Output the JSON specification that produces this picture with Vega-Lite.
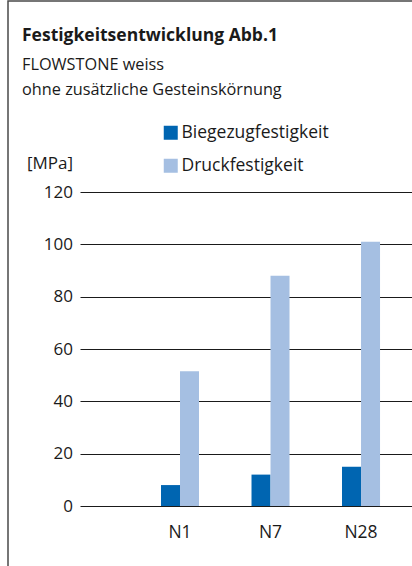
{
  "$schema": "https://vega.github.io/schema/vega-lite/v6.json",
  "width": 404,
  "height": 565,
  "autosize": {"type": "none"},
  "padding": {"left": 8, "top": 1, "right": 0, "bottom": 0},
  "background": "white",
  "config": {
    "view": {"stroke": "#4a4a4a", "strokeWidth": 1.5, "strokeDash": [404, 969, 565, 200]},
    "font": "Open Sans"
  },
  "title": {
    "text": "Festigkeitsentwicklung Abb.1",
    "subtitle": ["FLOWSTONE weiss", "ohne zusätzliche Gesteinskörnung"],
    "anchor": "start",
    "frame": "group",
    "orient": "top",
    "offset": -97,
    "dx": 14,
    "font": "Open Sans",
    "fontSize": 17.5,
    "fontWeight": "bold",
    "color": "#1a1a1a",
    "subtitleFont": "Open Sans",
    "subtitleFontSize": 16.3,
    "subtitleColor": "#1a1a1a",
    "subtitlePadding": 13,
    "subtitleLineHeight": 24.5
  },
  "data": {
    "values": [
      {"Alter": "N1", "Serie": "Biegezugfestigkeit", "Wert": 8},
      {"Alter": "N1", "Serie": "Druckfestigkeit", "Wert": 51.5},
      {"Alter": "N7", "Serie": "Biegezugfestigkeit", "Wert": 12},
      {"Alter": "N7", "Serie": "Druckfestigkeit", "Wert": 88},
      {"Alter": "N28", "Serie": "Biegezugfestigkeit", "Wert": 15},
      {"Alter": "N28", "Serie": "Druckfestigkeit", "Wert": 101}
    ]
  },
  "mark": {"type": "bar"},
  "encoding": {
    "x": {
      "field": "Alter",
      "type": "nominal",
      "sort": ["N1", "N7", "N28"],
      "scale": {"range": [72, 404], "paddingInner": 0.58, "paddingOuter": 0.624, "align": 0.717},
      "axis": {
        "title": null,
        "domain": false,
        "ticks": false,
        "tickSize": 0,
        "grid": false,
        "labelAngle": 0,
        "labelPadding": -34,
        "labelBaseline": "middle",
        "labelFontSize": 17.5,
        "labelFont": "Open Sans",
        "labelColor": "#1a1a1a"
      }
    },
    "xOffset": {
      "field": "Serie",
      "type": "nominal",
      "sort": ["Biegezugfestigkeit", "Druckfestigkeit"]
    },
    "y": {
      "field": "Wert",
      "type": "quantitative",
      "scale": {"domain": [0, 120], "range": [505, 191], "nice": false},
      "axis": {
        "values": [0, 20, 40, 60, 80, 100, 120],
        "domain": false,
        "ticks": false,
        "tickSize": 0,
        "labelPadding": -64.5,
        "labelFontSize": 17,
        "labelFont": "Open Sans",
        "labelColor": "#1a1a1a",
        "grid": true,
        "gridColor": "#1a1a1a",
        "gridWidth": 1,
        "gridOpacity": 1,
        "title": "[MPa]",
        "titleAngle": 0,
        "titleAlign": "right",
        "titleBaseline": "middle",
        "titleX": 64.5,
        "titleY": 162,
        "titleFontSize": 17,
        "titleFontWeight": "normal",
        "titleFont": "Open Sans",
        "titleColor": "#1a1a1a"
      }
    },
    "color": {
      "field": "Serie",
      "type": "nominal",
      "scale": {
        "domain": ["Biegezugfestigkeit", "Druckfestigkeit"],
        "range": ["#0065b1", "#a5bfe2"]
      },
      "legend": {
        "orient": "none",
        "legendX": 154,
        "legendY": 123,
        "title": null,
        "padding": 0,
        "symbolType": "square",
        "symbolSize": 196,
        "symbolStrokeWidth": 0,
        "symbolOpacity": 1,
        "labelFontSize": 17.5,
        "labelFont": "Open Sans",
        "labelColor": "#1a1a1a",
        "labelOffset": 2,
        "rowPadding": 14
      }
    }
  }
}
